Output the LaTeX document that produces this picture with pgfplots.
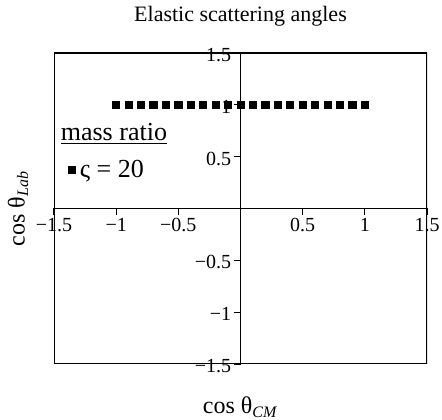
\documentclass[border=0pt]{standalone}
\usepackage{fontspec}
\setmainfont{Liberation Serif}
\usepackage{pgfplots}
\pgfplotsset{compat=1.18}
\usetikzlibrary{calc}

\begin{document}
\begin{tikzpicture}
\begin{axis}[
  scale only axis, width=186.5pt, height=155.5pt,
  xmin=-1.5, xmax=1.5, ymin=-1.5, ymax=1.5,
  axis x line=middle, axis y line=middle,
  axis line style={-, line width=0.6pt},
  tick style={black, line width=0.6pt},
  tick align=outside, major tick length=3.5pt,
  xtick={-1.5,-1,-0.5,0.5,1,1.5},
  xticklabels={−1.5,−1,−0.5,0.5,1,1.5},
  ytick={-1.5,-1,-0.5,0.5,1,1.5},
  yticklabels={−1.5,−1,−0.5,0.5,1,1.5},
  tick label style={font=\fontsize{10}{12}\selectfont, inner sep=1pt},
  yticklabel style={yshift=-1pt},
  title={Elastic scattering angles},
  title style={at={(axis description cs:0.5,1)}, anchor=center, yshift=12.5pt, font=\fontsize{11}{13}\selectfont},
  xlabel={cos θ\textsubscript{\textit{CM}}},
  ylabel={cos θ\textsubscript{\textit{Lab}}},
  x label style={at={(axis description cs:0.5,0)}, anchor=center, yshift=-21.5pt, font=\fontsize{12}{14}\selectfont},
  y label style={at={(axis description cs:0,0.5)}, anchor=center, rotate=90, yshift=18pt, font=\fontsize{12}{14}\selectfont},
  legend style={draw=none, fill=none, at={(axis description cs:-0.014,0.80)}, anchor=north west,
    font=\fontsize{13}{15}\selectfont, row sep=4pt},
  legend cell align=left,
]
\draw[line width=0.6pt] (rel axis cs:0,0) rectangle (rel axis cs:1,1);
\addlegendimage{empty legend}
\addlegendentry{\hspace*{-9.5pt}\underline{mass ratio}}
\addplot[only marks, mark=square*, mark size=1.8pt, black] coordinates {
(-1,1) (-0.9,1) (-0.8,1) (-0.7,1) (-0.6,1) (-0.5,1) (-0.4,1) (-0.3,1) (-0.2,1) (-0.1,1) (0,1)
(0.1,1) (0.2,1) (0.3,1) (0.4,1) (0.5,1) (0.6,1) (0.7,1) (0.8,1) (0.9,1) (1,1)};
\addlegendentry{ς = 20}
\end{axis}
\pgfresetboundingbox
\path ($(current axis.south west)+(-27pt,-28pt)$) rectangle ($(current axis.north east)+(7.5pt,26.5pt)$);
\end{tikzpicture}
\end{document}
